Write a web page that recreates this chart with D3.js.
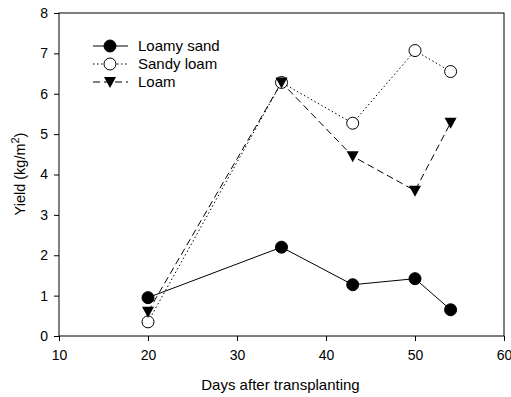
<!DOCTYPE html>
<html>
<head>
<meta charset="utf-8">
<script src="https://cdn.jsdelivr.net/npm/d3@7"></script>
<style>
  body { margin: 0; background: #fff; }
  text { font-family: Arial, "Liberation Sans", sans-serif; fill: #000; }
</style>
</head>
<body>
<svg id="chart" width="511" height="397"></svg>
<script>
// values
const days = [20, 35, 43, 50, 54]
const loamySand = [0.95, 2.2, 1.27, 1.42, 0.65]
const sandyLoam = [0.35, 6.28, 5.27, 7.07, 6.55]
const loam = [0.6, 6.28, 4.45, 3.6, 5.28]
const xTicks = [10, 20, 30, 40, 50, 60]
const yTicks = [0, 1, 2, 3, 4, 5, 6, 7, 8]
const seriesNames = ["Loamy sand", "Sandy loam", "Loam"]

const svg = d3.select("#chart")
const plotLeft = 59, plotRight = 504, plotTop = 13, plotBottom = 336

const x = d3.scaleLinear().domain([10, 60]).range([plotLeft, plotRight])
const y = d3.scaleLinear().domain([0, 8]).range([plotBottom, plotTop])

// frame
svg.append("rect")
  .attr("x", plotLeft).attr("y", plotTop)
  .attr("width", plotRight - plotLeft).attr("height", plotBottom - plotTop)
  .attr("fill", "none").attr("stroke", "#000").attr("stroke-width", 1)

const xAxis = svg.append("g")
  .attr("transform", `translate(0,${plotBottom})`)
  .call(d3.axisBottom(x).tickValues(xTicks).tickSize(5).tickPadding(9))
const yAxis = svg.append("g")
  .attr("transform", `translate(${plotLeft},0)`)
  .call(d3.axisLeft(y).tickValues(yTicks).tickSize(5).tickPadding(6))
;[xAxis, yAxis].forEach(a => {
  a.select(".domain").remove()
  a.selectAll("text").style("font-size", "14px").style("font-family", "Arial, 'Liberation Sans', sans-serif")
})

svg.append("text")
  .attr("x", (plotLeft + plotRight) / 2 - 1).attr("y", 390)
  .attr("text-anchor", "middle").style("font-size", "15px")
  .text("Days after transplanting")

const yl = svg.append("text")
  .attr("transform", "translate(25,174) rotate(-90)")
  .attr("text-anchor", "middle").style("font-size", "14.5px")
yl.append("tspan").text("Yield (kg/m")
yl.append("tspan").attr("dy", -6).style("font-size", "11px").text("2")
yl.append("tspan").attr("dy", 6).text(")")

const series = [
  {name: seriesNames[0], values: loamySand, dash: null, marker: "filledCircle"},
  {name: seriesNames[1], values: sandyLoam, dash: "1.5,2.5", marker: "openCircle"},
  {name: seriesNames[2], values: loam, dash: "7,4", marker: "triangle"}
]

const line = d3.line().x((d, i) => x(days[i])).y(d => y(d))

function drawMarker(g, cx, cy, type){
  if(type === "triangle"){
    g.append("path")
      .attr("d", `M${cx - 6},${cy - 5}L${cx + 6},${cy - 5}L${cx},${cy + 6}Z`)
      .attr("fill", "#000")
  } else {
    g.append("circle").attr("cx", cx).attr("cy", cy).attr("r", 6)
      .attr("fill", type === "openCircle" ? "#fff" : "#000")
      .attr("stroke", "#000").attr("stroke-width", 1)
  }
}

// sandy loam under loam, so the triangle covers the open circle at day 35
const drawOrder = [1, 2, 0]
drawOrder.forEach(k => {
  const s = series[k]
  svg.append("path").datum(s.values)
    .attr("d", line).attr("fill", "none").attr("stroke", "#000")
    .attr("stroke-width", 1).attr("stroke-dasharray", s.dash)
})
drawOrder.forEach(k => {
  const s = series[k]
  const g = svg.append("g")
  s.values.forEach((v, i) => drawMarker(g, x(days[i]), y(v), s.marker))
})

// legend
const legend = svg.append("g")
series.forEach((s, i) => {
  const ly = 46 + i * 18
  legend.append("line").attr("x1", 93).attr("x2", 128).attr("y1", ly).attr("y2", ly)
    .attr("stroke", "#000").attr("stroke-width", 1).attr("stroke-dasharray", s.dash)
  drawMarker(legend, 110, ly, s.marker)
  legend.append("text").attr("x", 138).attr("y", ly + 5)
    .style("font-size", "15px").text(s.name)
})
</script>
</body>
</html>
